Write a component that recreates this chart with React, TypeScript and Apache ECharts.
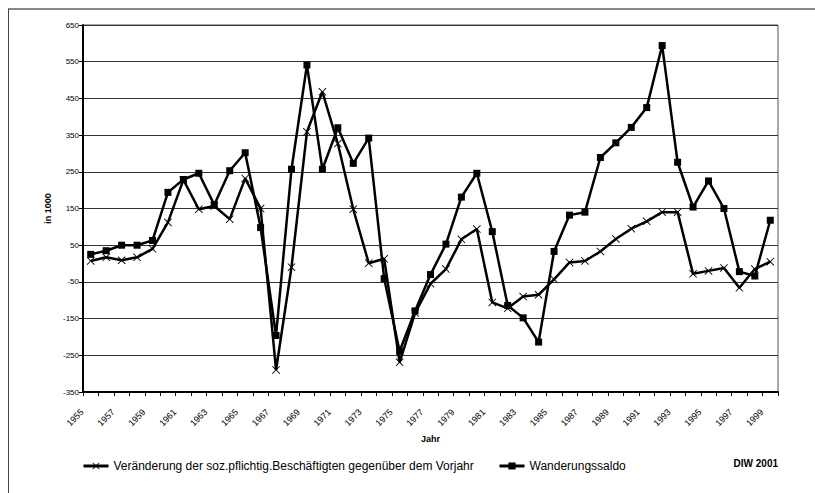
import React, { useEffect, useRef } from "react";
import * as echarts from "echarts";

const years: string[] = [];
for (let y = 1955; y <= 1999; y++) years.push(String(y));

const beschaeftigte = [
  7, 17, 9, 17, 40, 112, 228, 148, 157, 121,
  232, 150, -290, -10, 359, 468, 327, 148, 1, 13,
  -269, -135, -55, -15, 66, 94, -106, -122, -90, -85,
  -43, 3, 7, 33, 67, 95, 115, 140, 140, -28,
  -20, -12, -66, -15, 5,
];

const wanderung = [
  25, 35, 50, 50, 63, 194, 229, 246, 160, 253,
  302, 98, -196, 257, 541, 257, 370, 273, 342, -41,
  -239, -129, -30, 53, 181, 246, 87, -114, -148, -214,
  33, 132, 140, 289, 329, 371, 425, 594, 276, 154,
  225, 150, -22, -34, 118,
];

const yTicks = { min: -350, max: 650, interval: 100 };

const nameA = "Veränderung der soz.pflichtig.Beschäftigten gegenüber dem Vorjahr";
const nameB = "Wanderungssaldo";

const crossPath =
  "path://M0,0.8L0.8,0L5,4.2L9.2,0L10,0.8L5.8,5L10,9.2L9.2,10L5,5.8L0.8,10L0,9.2L4.2,5Z";

const FONT = "'Liberation Sans', Arial, sans-serif";

export default function App() {
  const ref = useRef<HTMLDivElement>(null);
  useEffect(() => {
    if (!ref.current) return;
    const chart = echarts.init(ref.current, undefined, { renderer: "svg" });
    const legendCommon = {
      top: 455,
      itemWidth: 25,
      itemHeight: 9,
      lineStyle: { width: 3, color: "#000" },
      textStyle: { fontSize: 12, color: "#000", fontFamily: FONT },
    };
    chart.setOption({
      animation: false,
      backgroundColor: "#fff",
      textStyle: { fontFamily: FONT },
      grid: { left: 83, right: 37, top: 25, bottom: 101, show: true, borderColor: "#555", borderWidth: 1 },
      legend: [
        { ...legendCommon, data: [nameA], left: 77 },
        { ...legendCommon, data: [nameB], left: 493 },
      ],
      xAxis: {
        type: "category",
        data: years,
        boundaryGap: true,
        name: "Jahr",
        nameLocation: "middle",
        nameGap: 41,
        nameTextStyle: { fontSize: 9, fontWeight: "bold", color: "#000" },
        axisLine: { onZero: false, lineStyle: { color: "#000", width: 2 } },
        axisTick: { show: true, interval: 0, length: 4, lineStyle: { color: "#000" } },
        axisLabel: {
          interval: 1,
          rotate: 45,
          fontSize: 9,
          color: "#000",
          margin: 10,
          padding: [0, 12, 0, 0],
        },
        splitLine: { show: false },
      },
      yAxis: {
        type: "value",
        min: yTicks.min,
        max: yTicks.max,
        interval: yTicks.interval,
        name: "in 1000",
        nameLocation: "middle",
        nameGap: 30,
        nameTextStyle: { fontSize: 9, fontWeight: "bold", color: "#000" },
        axisLine: { show: true, lineStyle: { color: "#000", width: 2 } },
        axisTick: { show: true, length: 4, lineStyle: { color: "#000" } },
        axisLabel: { fontSize: 8, color: "#000", margin: 4 },
        splitLine: { show: true, lineStyle: { color: "#333", width: 1 } },
      },
      series: [
        {
          name: nameA,
          type: "line",
          data: beschaeftigte,
          symbol: crossPath,
          symbolSize: 8,
          showAllSymbol: true,
          color: "#000",
          lineStyle: { color: "#000", width: 2.5 },
          itemStyle: { color: "#000" },
          z: 3,
        },
        {
          name: nameB,
          type: "line",
          data: wanderung,
          symbol: "rect",
          symbolSize: 7,
          showAllSymbol: true,
          color: "#000",
          lineStyle: { color: "#000", width: 2.5 },
          itemStyle: { color: "#000" },
          z: 4,
        },
      ],
      graphic: [
        {
          type: "line",
          shape: { x1: 8, y1: 9, x2: 815, y2: 9 },
          style: { stroke: "#888", lineWidth: 2 },
        },
        {
          type: "line",
          shape: { x1: 8.5, y1: 9, x2: 8.5, y2: 493 },
          style: { stroke: "#444", lineWidth: 1 },
        },
        {
          type: "text",
          right: 37,
          top: 458,
          style: { text: "DIW 2001", font: `bold 10px ${FONT}`, fill: "#000" },
        },
      ],
    });
    return () => chart.dispose();
  }, []);
  return (
    <div
      ref={ref}
      style={{ position: "absolute", left: 0, top: 0, width: 815, height: 493 }}
    />
  );
}
